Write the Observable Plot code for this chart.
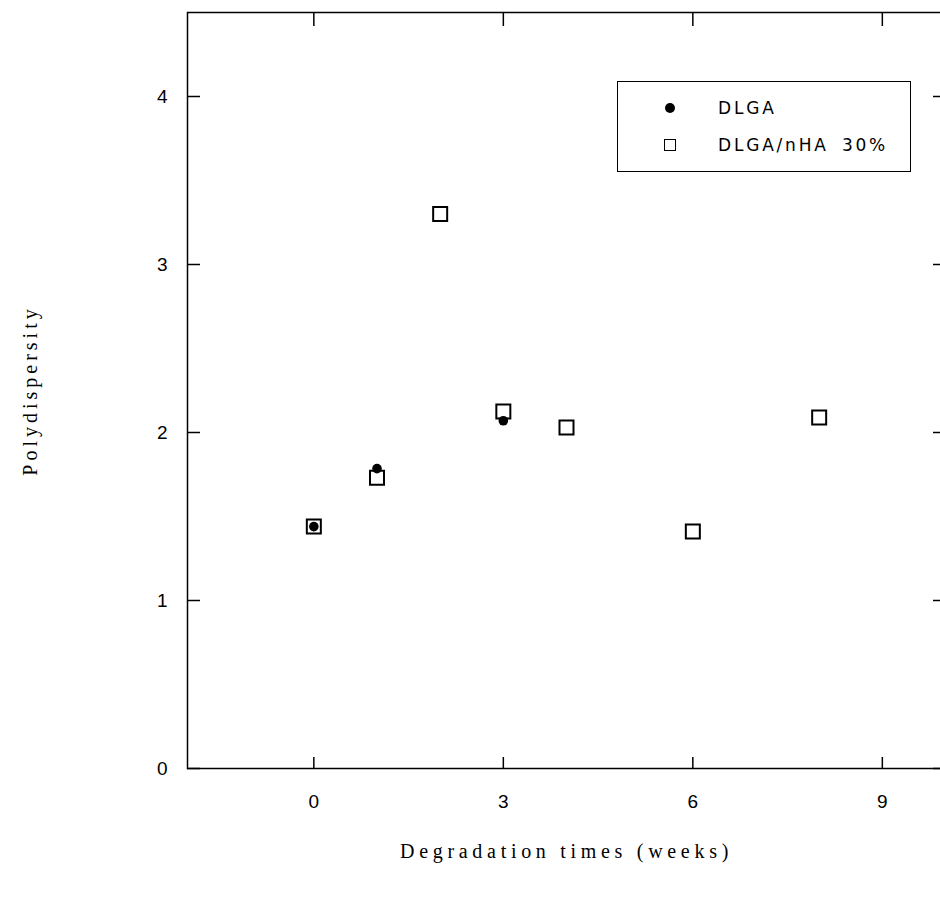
<!DOCTYPE html>
<html>
<head>
<meta charset="utf-8">
<script src="https://cdn.jsdelivr.net/npm/d3@7"></script>
<script src="https://cdn.jsdelivr.net/npm/@observablehq/plot@0.6"></script>
<style>
  html, body { margin: 0; padding: 0; background: #fff; overflow: hidden; }
  #wrap { position: relative; width: 940px; height: 901px; overflow: hidden; }
  #wrap svg { max-width: none !important; display: block; }
  #legend { position: absolute; left: 617px; top: 81px; width: 294px; height: 91px;
    border: 1.5px solid #000; background: #fff; box-sizing: border-box;
    font-family: "DejaVu Sans", "Liberation Sans", sans-serif; font-size: 17px; letter-spacing: 2.8px; word-spacing: 5px; color: #000; }
  .row { position: absolute; left: 0; height: 20px; line-height: 20px; }
  .row .txt { position: absolute; left: 100px; top: 0; white-space: nowrap; }
  .mk { position: absolute; box-sizing: border-box; }
</style>
</head>
<body>
<div id="wrap">
  <div id="legend">
    <div class="row" style="top:16px;width:290px;">
      <div class="mk" style="left:47px;top:5px;width:10px;height:10px;border-radius:50%;background:#000;"></div>
      <span class="txt">DLGA</span>
    </div>
    <div class="row" style="top:53px;width:290px;">
      <div class="mk" style="left:46px;top:4px;width:12px;height:12px;border:1.5px solid #000;"></div>
      <span class="txt">DLGA/nHA 30%</span>
    </div>
  </div>
</div>
<script>
// Data
const weeksDLGA = [0, 1, 3];
const pdDLGA = [1.44, 1.785, 2.07];
const weeksNHA = [0, 1, 2, 3, 4, 6, 8];
const pdNHA = [1.44, 1.73, 3.30, 2.125, 2.03, 1.41, 2.09];
const xTicks = [0, 3, 6, 9];
const yTicks = [0, 1, 2, 3, 4];

const dlga = weeksDLGA.map((w, i) => ({week: w, pd: pdDLGA[i]}));
const nha = weeksNHA.map((w, i) => ({week: w, pd: pdNHA[i]}));

const tickFont = "Liberation Sans, Arial, sans-serif";
const titleFont = "Liberation Serif, Times New Roman, serif";
const fmt = d3.format("d");

const chart = Plot.plot({
  width: 946,
  height: 901,
  marginLeft: 187,
  marginRight: 1,
  marginTop: 12,
  marginBottom: 133,
  style: {background: "#fff", color: "#000", overflow: "visible", maxWidth: "none"},
  x: {domain: [-2, 10]},
  y: {domain: [0, 4.5]},
  marks: [
    Plot.frame({stroke: "#000", strokeWidth: 1.5}),
    Plot.axisX({anchor: "bottom", ticks: xTicks, tickFormat: fmt, tickSize: -11, tickPadding: 37, fontSize: 19, fontFamily: tickFont, label: null, strokeWidth: 1.5}),
    Plot.axisX({anchor: "top", ticks: xTicks, tickSize: -13, tickFormat: () => "", label: null, strokeWidth: 1.5}),
    Plot.axisY({anchor: "left", ticks: yTicks, tickFormat: fmt, tickSize: -13, tickPadding: 33, fontSize: 19, fontFamily: tickFont, label: null, strokeWidth: 1.5}),
    Plot.axisY({anchor: "right", ticks: yTicks, tickSize: -13, tickFormat: () => "", label: null, strokeWidth: 1.5}),
    Plot.dot(nha, {x: "week", y: "pd", symbol: "square", r: 7.9, stroke: "#000", strokeWidth: 2, fill: "none"}),
    Plot.dot(dlga, {x: "week", y: "pd", r: 4.8, fill: "#000", stroke: "none"}),
    Plot.text(["Degradation times (weeks)"], {frameAnchor: "bottom", dy: 89, textAnchor: "middle", fontSize: 20, fontFamily: titleFont, fill: "#000"}),
    Plot.text(["Polydispersity"], {frameAnchor: "left", dx: -157, rotate: -90, textAnchor: "middle", fontSize: 20, fontFamily: titleFont, fill: "#000"})
  ]
});
chart.style.maxWidth = "none";
d3.select(chart).selectAll("text").each(function() {
  const t = this.textContent;
  if (t === "Degradation times (weeks)") d3.select(this).style("letter-spacing", "4.7px");
  if (t === "Polydispersity") d3.select(this).style("letter-spacing", "4px");
});
document.getElementById("wrap").insertBefore(chart, document.getElementById("legend"));
</script>
</body>
</html>
